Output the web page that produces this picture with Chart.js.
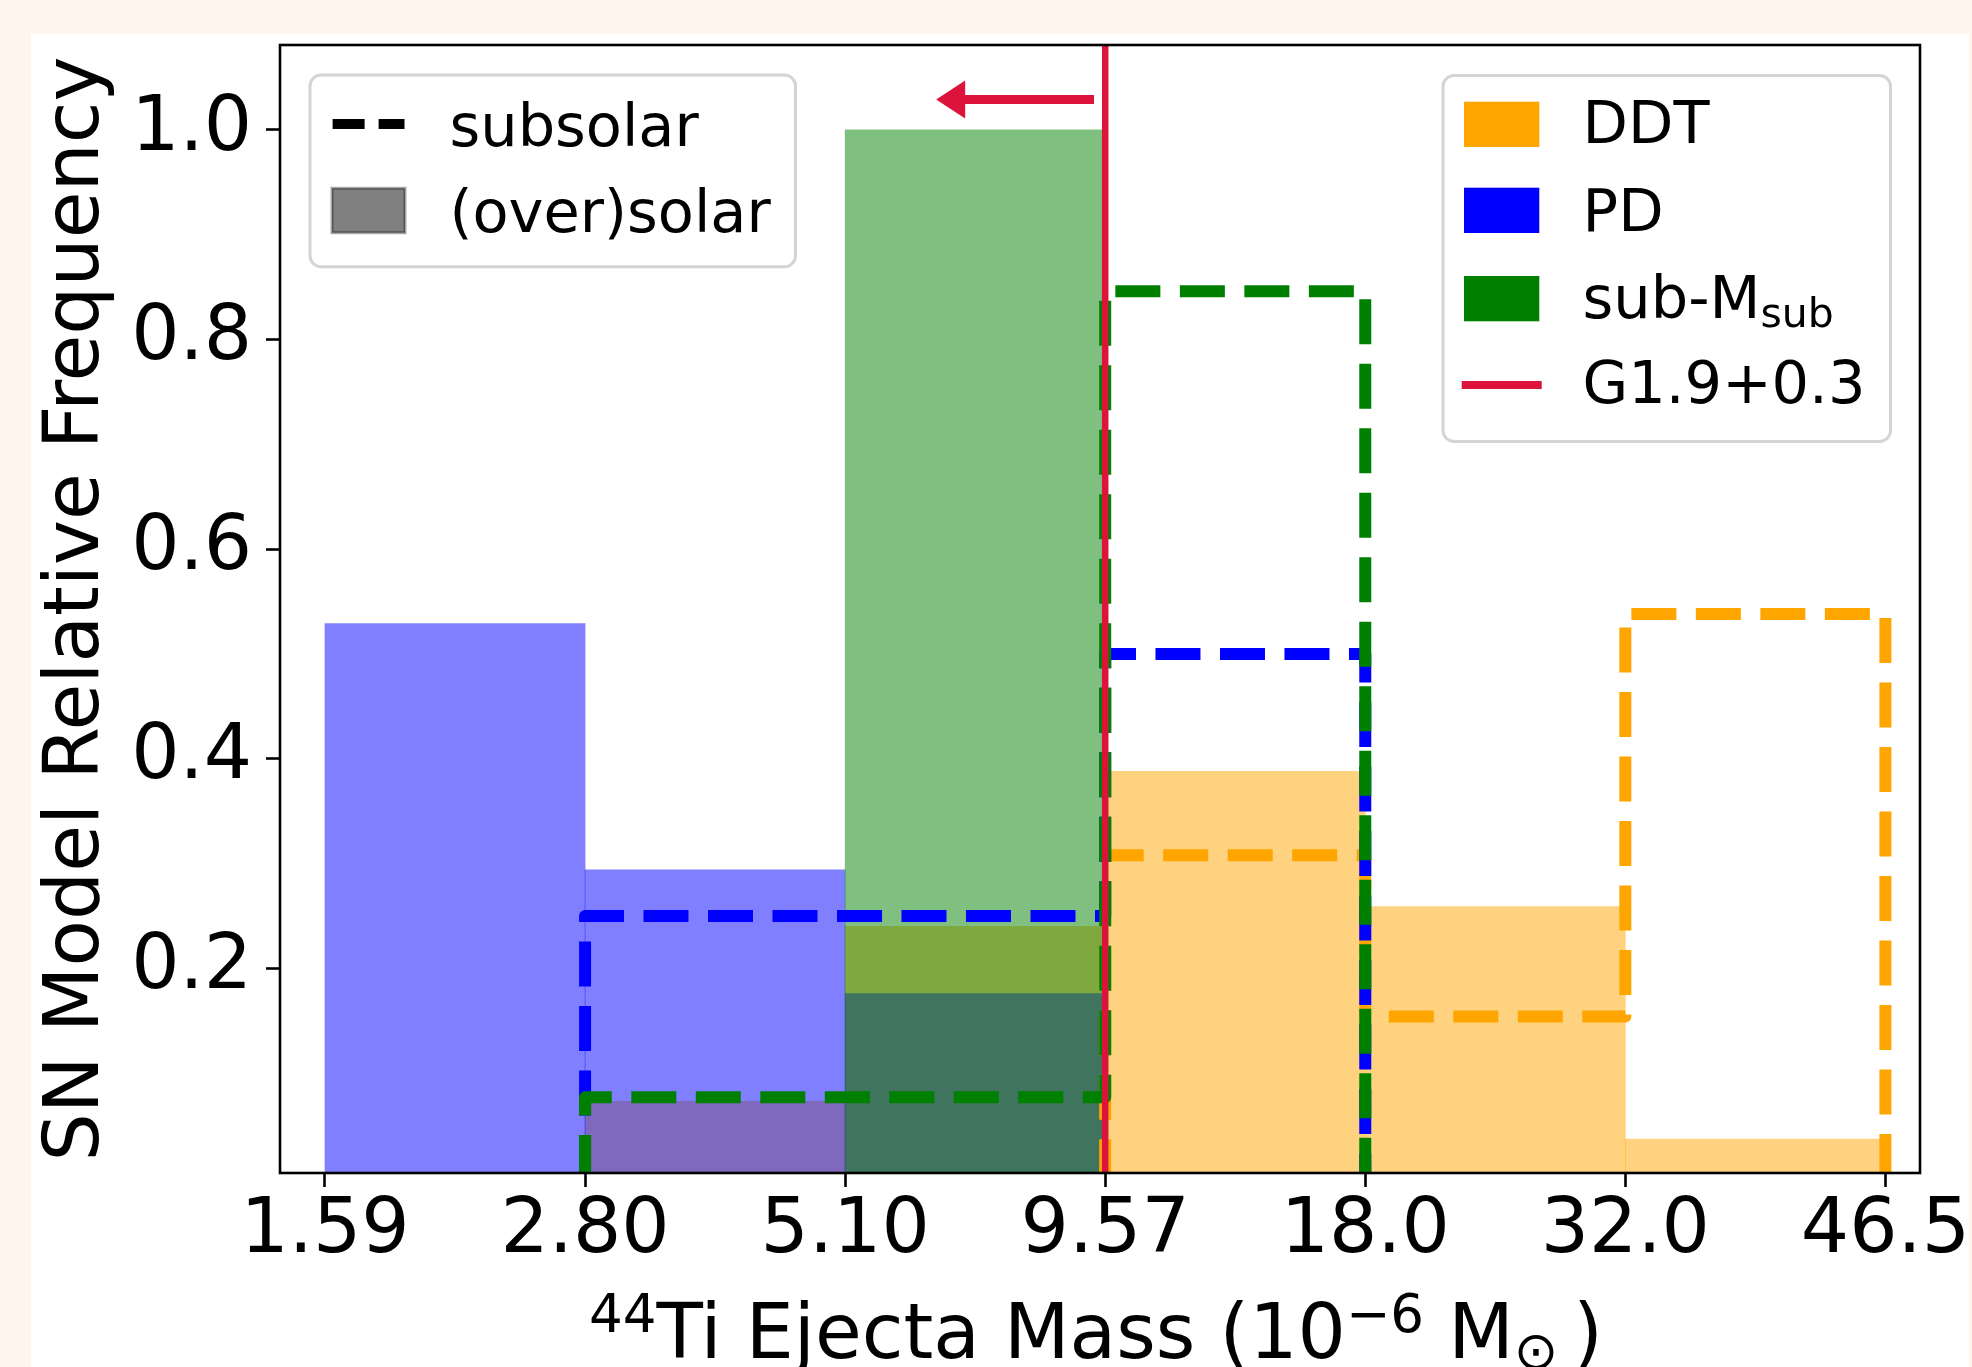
<!DOCTYPE html>
<html>
<head>
<meta charset="utf-8">
<script src="https://cdn.jsdelivr.net/npm/chart.js@4.4.0/dist/chart.umd.min.js"></script>
<style>
  html, body { margin: 0; padding: 0; background: #fdf5ee; overflow: hidden; }
  canvas { display: block; }
</style>
</head>
<body>
<canvas id="myChart" width="1972" height="1367" style="width:1972px;height:1367px"></canvas>
<script>
// bin edges (10^-6 Msun), shown as tick labels on an index axis
const binEdgeLabels = ['1.59', '2.80', '5.10', '9.57', '18.0', '32.0', '46.5'];
const yTickValues = [0.2, 0.4, 0.6, 0.8, 1.0];

// (over)solar models, filled histograms
const ddtSolar = [0, 0.073, 0.240, 0.388, 0.259, 0.037];
const pdSolar = [0.529, 0.294, 0.176, 0, 0, 0];
const subMSolar = [0, 0, 1.0, 0, 0, 0];

// subsolar models, dashed step histograms
const ddtSubsolar = [0, 0, 0, 0.308, 0.154, 0.538];
const pdSubsolar = [0, 0.25, 0.25, 0.5, 0, 0];
const subMSubsolar = [0, 0.077, 0.077, 0.846, 0, 0];

// G1.9+0.3 upper limit sits on the 9.57 edge (edge index 3)
const g19Edge = 3;
const arrowFrom = { x: 2.957, y: 1.029 };
const arrowTo = { x: 2.35, y: 1.029 };

const xRange = [-0.173, 6.133];
const yRange = [0.0047, 1.081];

const FONT = "'DejaVu Sans', sans-serif";
Chart.defaults.font.family = FONT;
Chart.defaults.color = '#000';

function barPoints(vals) {
    return vals.map(function (v, i) { return { x: i + 0.5, y: v }; });
}

// outline like matplotlib histtype='step'
function stepPoints(vals) {
    let pts = [{ x: 0, y: 0 }];
    for (let i = 0; i < vals.length; i++) {
        pts.push({ x: i, y: vals[i] });
        pts.push({ x: i + 1, y: vals[i] });
    }
    pts.push({ x: vals.length, y: 0 });
    return pts;
}

function fillSet(label, vals, color, order) {
    return {
        type: 'bar', label: label, data: barPoints(vals),
        backgroundColor: color, borderWidth: 0,
        grouped: false, barPercentage: 1, categoryPercentage: 1,
        order: order, clip: 0
    };
}

function stepSet(label, vals, color, order) {
    return {
        type: 'line', label: label, data: stepPoints(vals),
        borderColor: color, borderWidth: 12, borderDash: [45, 19.5],
        borderCapStyle: 'butt', borderJoinStyle: 'round',
        pointRadius: 0, fill: false, tension: 0, order: order, clip: 0
    };
}

const bgPlugin = {
    id: 'bg',
    beforeDraw(chart) {
        const ctx = chart.ctx;
        ctx.save();
        ctx.fillStyle = '#fdf5ee';
        ctx.fillRect(0, 0, chart.width, chart.height);
        ctx.fillStyle = '#ffffff';
        ctx.fillRect(31, 34, 1938, chart.height - 34);
        ctx.restore();
    }
};

const framePlugin = {
    id: 'frame',
    afterDatasetsDraw(chart) {
        const ctx = chart.ctx;
        const a = chart.chartArea;
        const xs = chart.scales.x, ys = chart.scales.y;
        ctx.save();
        // arrow pointing to lower masses
        const x0 = xs.getPixelForValue(arrowFrom.x);
        const x1 = xs.getPixelForValue(arrowTo.x);
        const yA = ys.getPixelForValue(arrowFrom.y);
        const headLen = 29, headHalf = 19, shaftHalf = 4.5;
        ctx.fillStyle = '#dc143c';
        ctx.beginPath();
        ctx.moveTo(x0, yA - shaftHalf);
        ctx.lineTo(x1 + headLen, yA - shaftHalf);
        ctx.lineTo(x1 + headLen, yA - headHalf);
        ctx.lineTo(x1, yA);
        ctx.lineTo(x1 + headLen, yA + headHalf);
        ctx.lineTo(x1 + headLen, yA + shaftHalf);
        ctx.lineTo(x0, yA + shaftHalf);
        ctx.closePath();
        ctx.fill();
        // axes frame
        ctx.strokeStyle = '#000';
        ctx.lineWidth = 2.6;
        ctx.strokeRect(a.left, a.top, a.right - a.left, a.bottom - a.top);
        ctx.restore();
    }
};

function roundBox(ctx, x, y, w, h, r) {
    ctx.beginPath();
    ctx.moveTo(x + r, y);
    ctx.arcTo(x + w, y, x + w, y + h, r);
    ctx.arcTo(x + w, y + h, x, y + h, r);
    ctx.arcTo(x, y + h, x, y, r);
    ctx.arcTo(x, y, x + w, y, r);
    ctx.closePath();
}

function legendFrame(ctx, x, y, w, h) {
    roundBox(ctx, x, y, w, h, 11);
    ctx.fillStyle = 'rgba(255,255,255,0.8)';
    ctx.fill();
    ctx.strokeStyle = '#d4d4d4';
    ctx.lineWidth = 3;
    ctx.stroke();
}

const textPlugin = {
    id: 'texts',
    afterDraw(chart) {
        const ctx = chart.ctx;
        const a = chart.chartArea;
        ctx.save();
        ctx.fillStyle = '#000';
        ctx.textBaseline = 'alphabetic';

        // left legend: line styles
        legendFrame(ctx, 310, 75, 485.5, 191.7);
        ctx.strokeStyle = '#000';
        ctx.lineWidth = 10;
        ctx.setLineDash([32, 14]);
        ctx.beginPath();
        ctx.moveTo(332.6, 124);
        ctx.lineTo(404.5, 124);
        ctx.stroke();
        ctx.setLineDash([]);
        ctx.fillStyle = '#808080';
        ctx.fillRect(332, 188.3, 73, 44.4);
        ctx.strokeStyle = 'rgba(0,0,0,0.35)';
        ctx.lineWidth = 3;
        ctx.strokeRect(332, 188.3, 73, 44.4);
        ctx.fillStyle = '#000';
        ctx.font = '59px ' + FONT;
        ctx.textAlign = 'left';
        ctx.fillText('subsolar', 449.5, 146);
        ctx.fillText('(over)solar', 449.5, 231.7);

        // right legend: models
        legendFrame(ctx, 1443, 75.5, 447.5, 366);
        const patches = [
            { c: '#ffa500', y: 101.7 },
            { c: '#0000ff', y: 187.7 },
            { c: '#008000', y: 276 }
        ];
        patches.forEach(function (p) {
            ctx.fillStyle = p.c;
            ctx.fillRect(1464, p.y, 75.3, 45.3);
        });
        ctx.strokeStyle = '#dc143c';
        ctx.lineWidth = 8;
        ctx.beginPath();
        ctx.moveTo(1461.7, 385);
        ctx.lineTo(1541.7, 385);
        ctx.stroke();
        ctx.fillStyle = '#000';
        ctx.font = '59px ' + FONT;
        ctx.fillText('DDT', 1582.6, 143.3);
        ctx.fillText('PD', 1582.6, 230.7);
        ctx.fillText('sub-M', 1582.6, 317.7);
        const wSubM = ctx.measureText('sub-M').width;
        ctx.fillText('G1.9+0.3', 1582.6, 403.3);
        ctx.font = '41px ' + FONT;
        ctx.fillText('sub', 1582.6 + wSubM, 326.7);

        // y axis title
        ctx.save();
        ctx.translate(98.3, (a.top + a.bottom) / 2);
        ctx.rotate(-Math.PI / 2);
        ctx.textAlign = 'center';
        ctx.font = '76px ' + FONT;
        ctx.fillText('SN Model Relative Frequency', 0, 0);
        ctx.restore();

        // x axis title with super/subscripts
        const mainF = '76px ' + FONT, scriptF = '53px ' + FONT;
        const base = 1357.5;
        const pieces = [
            { t: '44', f: scriptF, dy: -26 },
            { t: 'Ti Ejecta Mass (10', f: mainF, dy: 0 },
            { t: '\u22126', f: scriptF, dy: -26 },
            { t: ' M', f: mainF, dy: 0 },
            { t: '\u2299', f: scriptF, dy: 11 },
            { t: '\u2009)', f: mainF, dy: 0 }
        ];
        let total = 0;
        pieces.forEach(function (p) { ctx.font = p.f; p.w = ctx.measureText(p.t).width; total += p.w; });
        let x = (a.left + a.right) / 2 - 4 - total / 2;
        ctx.textAlign = 'left';
        pieces.forEach(function (p) {
            ctx.font = p.f;
            ctx.fillText(p.t, x, base + p.dy);
            x += p.w;
        });
        ctx.restore();
    }
};

const ctx = document.getElementById('myChart').getContext('2d');
const myChart = new Chart(ctx, {
    type: 'bar',
    data: {
        datasets: [
            fillSet('DDT', ddtSolar, 'rgba(255,165,0,0.5)', 9),
            fillSet('PD', pdSolar, 'rgba(0,0,255,0.5)', 8),
            fillSet('sub-M', subMSolar, 'rgba(0,128,0,0.5)', 7),
            stepSet('DDT subsolar', ddtSubsolar, '#ffa500', 6),
            stepSet('PD subsolar', pdSubsolar, '#0000ff', 5),
            stepSet('sub-M subsolar', subMSubsolar, '#008000', 4),
            {
                type: 'line', label: 'G1.9+0.3',
                data: [{ x: g19Edge, y: yRange[0] }, { x: g19Edge, y: yRange[1] }],
                borderColor: '#dc143c', borderWidth: 6.5, pointRadius: 0,
                fill: false, order: 1, clip: 0
            }
        ]
    },
    options: {
        responsive: false,
        animation: false,
        devicePixelRatio: 1,
        events: [],
        layout: { padding: { left: 0, top: 45, right: 52, bottom: 0 } },
        plugins: { legend: { display: false }, tooltip: { enabled: false } },
        scales: {
            x: {
                type: 'linear',
                offset: false,
                min: xRange[0],
                max: xRange[1],
                afterBuildTicks: function (scale) {
                    scale.ticks = binEdgeLabels.map(function (_, i) { return { value: i }; });
                },
                afterFit: function (scale) {
                    scale.height = 194;
                    scale.paddingLeft = 0;
                    scale.paddingRight = 0;
                },
                ticks: {
                    autoSkip: false, maxRotation: 0, padding: 0,
                    font: { size: 76, lineHeight: 1.2 },
                    callback: function (v) { return binEdgeLabels[v]; }
                },
                grid: { offset: false, drawOnChartArea: false, drawTicks: true, tickLength: 14, tickWidth: 2.6, tickColor: '#000' },
                border: { display: false }
            },
            y: {
                type: 'linear',
                min: yRange[0],
                max: yRange[1],
                afterBuildTicks: function (scale) {
                    scale.ticks = yTickValues.map(function (v) { return { value: v }; });
                },
                afterFit: function (scale) {
                    scale.width = 280;
                    scale.paddingTop = 0;
                    scale.paddingBottom = 0;
                },
                ticks: {
                    padding: 14,
                    font: { size: 76 },
                    callback: function (v) { return v.toFixed(1); }
                },
                grid: { drawOnChartArea: false, drawTicks: true, tickLength: 14, tickWidth: 2.6, tickColor: '#000' },
                border: { display: false }
            }
        }
    },
    plugins: [bgPlugin, framePlugin, textPlugin]
});
</script>
</body>
</html>
